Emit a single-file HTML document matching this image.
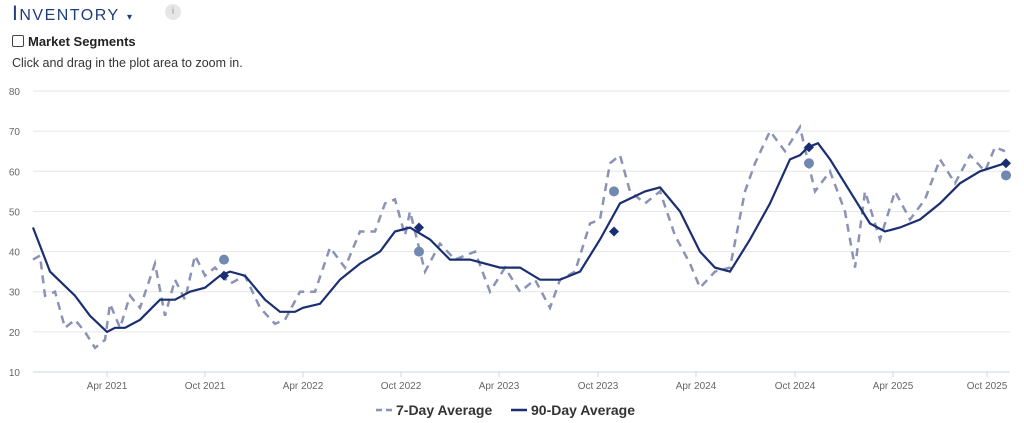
<!DOCTYPE html>
<html><head><meta charset="utf-8"><style>
body{margin:0;width:1024px;height:423px;background:#fff;font-family:"Liberation Sans",sans-serif;overflow:hidden;position:relative}
.t{position:absolute;left:12px;top:2px;color:#1f3d7a;font-size:21px;letter-spacing:1.5px}
.t small{font-size:16px}
.i{position:absolute;left:165px;top:4px;width:16px;height:16px;border-radius:50%;background:#e6e6e6;color:#999;font-size:10px;text-align:center;line-height:16px}
.cb{position:absolute;left:12px;top:34px;font-size:13px;font-weight:bold;color:#222}
.cb span{display:inline-block;width:10px;height:10px;border:1px solid #444;border-radius:2px;vertical-align:-1px;margin-right:4px}
.h{position:absolute;left:12px;top:56px;font-size:12.5px;color:#333}
</style></head><body>
<div class="t">I<small>NVENTORY</small> <span style="font-size:10px">▾</span></div>
<div class="i">i</div>
<div class="cb"><span></span>Market Segments</div>
<div class="h">Click and drag in the plot area to zoom in.</div>
<svg id="s" width="1024" height="423" style="position:absolute;left:0;top:0" font-family="Liberation Sans, sans-serif"></svg>
<script>
var s=document.getElementById('s'),h='';
function Y(v){return 372-(v-10)*4.014}
for(var v=10;v<=80;v+=10){h+='<line x1="33" x2="1010" y1="'+Y(v)+'" y2="'+Y(v)+'" stroke="'+(v==10?'#ccd6eb':'#e6e6e6')+'"/>';h+='<text x="20" y="'+(Y(v)+4)+'" font-size="10" fill="#666" text-anchor="end">'+v+'</text>';}
var L=[[107,'Apr 2021'],[205,'Oct 2021'],[303,'Apr 2022'],[401,'Oct 2022'],[499,'Apr 2023'],[598,'Oct 2023'],[696,'Apr 2024'],[795,'Oct 2024'],[893,'Apr 2025'],[987,'Oct 2025']];
L.forEach(function(l){h+='<line x1="'+l[0]+'" x2="'+l[0]+'" y1="372" y2="377" stroke="#ccd6eb"/><text x="'+l[0]+'" y="389" font-size="10" fill="#666" text-anchor="middle">'+l[1]+'</text>'});
var d7=[33,38,40,39,45,29,55,30,65,21,75,23,85,20,95,16,105,18,110,27,120,21,130,29,140,26,155,37,165,24,175,33,185,28,195,39,205,34,215,36,230,32,245,34,260,26,275,22,285,23,300,30,315,30,330,41,345,36,360,45,375,45,385,52,395,53,405,44,410,50,425,35,440,42,455,38,475,40,490,30,505,36,520,30,535,33,550,26,560,33,575,35,590,47,600,48,610,62,620,64,630,55,645,52,660,55,675,44,690,37,700,31,715,35,730,36,745,55,755,62,770,70,785,65,800,71,815,55,830,60,845,50,855,36,865,55,880,43,895,55,910,48,925,53,940,63,955,57,970,64,985,60,995,66,1005,65];
var d90=[33,46,50,35,75,29,90,24,107,20,115,21,125,21,140,23,160,28,175,28,190,30,205,31,220,34,230,35,245,34,265,28,280,25,295,25,303,26,320,27,340,33,360,37,380,40,395,45,410,46,430,43,450,38,470,38,500,36,520,36,540,33,560,33,580,35,600,43,620,52,645,55,660,56,680,50,700,40,715,36,730,35,750,43,770,52,790,63,800,64,808,66,818,67,830,63,850,55,870,47,885,45,900,46,920,48,940,52,960,57,980,60,1005,62];
function P(a){var p=[];for(var i=0;i<a.length;i+=2)p.push(a[i]+','+Y(a[i+1]).toFixed(1));return p.join(' ')}
h+='<polyline points="'+P(d7)+'" fill="none" stroke="#8a93b5" stroke-width="2.5" stroke-dasharray="8,6"/>';
h+='<polyline points="'+P(d90)+'" fill="none" stroke="#1a2f72" stroke-width="2.2"/>';
[[224,38],[419,40],[614,55],[809,62],[1006,59]].forEach(function(c){h+='<circle cx="'+c[0]+'" cy="'+Y(c[1])+'" r="5" fill="#7189b0"/>'});
[[224,34],[419,46],[614,45],[809,66],[1006,62]].forEach(function(c){var y=Y(c[1]);h+='<polygon points="'+c[0]+','+(y-5)+' '+(c[0]+5)+','+y+' '+c[0]+','+(y+5)+' '+(c[0]-5)+','+y+'" fill="#1a2f72"/>'});
h+='<line x1="376" x2="392" y1="410" y2="410" stroke="#8a93b5" stroke-width="2.5" stroke-dasharray="6,4"/><text x="396" y="415" font-size="14" font-weight="bold" fill="#333">7-Day Average</text>';
h+='<line x1="511" x2="527" y1="410" y2="410" stroke="#1a2f72" stroke-width="2.5"/><text x="531" y="415" font-size="14" font-weight="bold" fill="#333">90-Day Average</text>';
s.innerHTML=h;
</script>
</body></html>
